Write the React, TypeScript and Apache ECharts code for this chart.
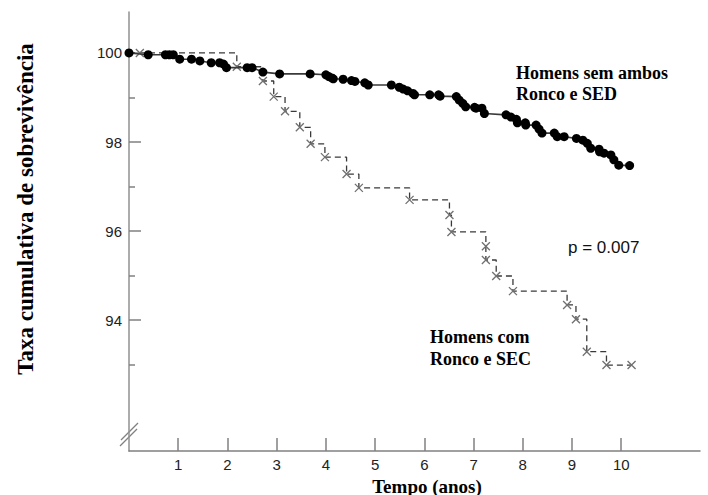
import React, { useEffect, useRef } from "react";
import * as echarts from "echarts";

const xTicks = [1, 2, 3, 4, 5, 6, 7, 8, 9, 10];
const yMajorTicks = [94, 96, 98, 100];
const yMinorTicks = [93, 95, 97, 99];

// Homens sem ambos Ronco e SED (solid, dots)
const tSolid = [0, 0.39, 0.74, 0.82, 0.9, 1.03, 1.27, 1.44, 1.67, 1.84, 1.92, 1.98, 2.4, 2.5, 2.72, 3.06, 3.68, 4.0, 4.06, 4.12, 4.15, 4.35, 4.52, 4.59, 4.79, 4.86, 5.33, 5.49, 5.57, 5.66, 5.77, 5.8, 6.11, 6.29, 6.32, 6.65, 6.71, 6.78, 6.84, 7.02, 7.05, 7.17, 7.22, 7.66, 7.76, 7.87, 7.89, 8.05, 8.06, 8.27, 8.33, 8.39, 8.64, 8.7, 8.84, 9.09, 9.22, 9.31, 9.38, 9.55, 9.56, 9.65, 9.79, 9.85, 9.95, 10.17];
const vSolid = [100, 99.96, 99.96, 99.96, 99.96, 99.86, 99.86, 99.82, 99.78, 99.78, 99.75, 99.67, 99.67, 99.67, 99.57, 99.53, 99.53, 99.51, 99.47, 99.44, 99.42, 99.41, 99.38, 99.36, 99.33, 99.28, 99.28, 99.23, 99.19, 99.15, 99.09, 99.06, 99.06, 99.06, 99.03, 99.02, 98.94, 98.87, 98.79, 98.78, 98.76, 98.76, 98.64, 98.61, 98.56, 98.51, 98.43, 98.43, 98.38, 98.38, 98.29, 98.2, 98.2, 98.12, 98.12, 98.08, 98.04, 97.97, 97.86, 97.84, 97.78, 97.75, 97.71, 97.6, 97.48, 97.47];

// Homens com Ronco e SEC (dashed step, x marks)
const tDashed = [0, 0.22, 2.19, 2.72, 2.94, 3.17, 3.47, 3.69, 3.98, 4.42, 4.67, 5.7, 6.51, 6.55, 7.25, 7.25, 7.46, 7.8, 8.9, 9.08, 9.3, 9.7, 10.21];
const vDashed = [100, 100, 99.69, 99.37, 99.02, 98.69, 98.33, 97.96, 97.66, 97.28, 96.97, 96.7, 96.36, 95.98, 95.66, 95.35, 94.99, 94.65, 94.34, 94.02, 93.29, 92.99, 92.99];

const labelSolid = "Homens sem ambos\nRonco e SED";
const labelDashed = "Homens com\nRonco e SEC";
const pValueText = "p = 0.007";
const xName = "Tempo (anos)";
const yName = "Taxa cumulativa de sobrevivência";

const SERIF = '"Liberation Serif", "Times New Roman", serif';
const SANS = '"Liberation Sans", Arial, sans-serif';

export default function App() {
  const ref = useRef<HTMLDivElement>(null);
  useEffect(() => {
    const chart = echarts.init(ref.current!, null, { renderer: "svg" });
    const yMin = 91.06;
    const yMax = 100.92;
    chart.setOption({
      animation: false,
      backgroundColor: "#ffffff",
      grid: { left: 129, right: 8, top: 12, bottom: 44 },
      xAxis: {
        type: "value",
        min: 0,
        max: 11.6,
        splitLine: { show: false },
        axisLine: { show: true, lineStyle: { color: "#808080", width: 1.5 } },
        axisTick: {
          show: true,
          inside: true,
          length: 13,
          customValues: xTicks,
          lineStyle: { color: "#808080", width: 1.5 },
        },
        axisLabel: {
          customValues: xTicks,
          color: "#222",
          fontFamily: SANS,
          fontSize: 15,
          margin: 6,
        },
      },
      yAxis: [
        {
          type: "value",
          min: yMin,
          max: yMax,
          splitLine: { show: false },
          axisLine: { show: true, lineStyle: { color: "#909090", width: 1.5 } },
          axisTick: {
            show: true,
            inside: true,
            length: 12,
            customValues: yMajorTicks,
            lineStyle: { color: "#808080", width: 1.5 },
          },
          axisLabel: {
            customValues: yMajorTicks,
            color: "#222",
            fontFamily: SANS,
            fontSize: 15,
            margin: 7,
          },
        },
        {
          type: "value",
          min: yMin,
          max: yMax,
          position: "left",
          splitLine: { show: false },
          axisLine: { show: false },
          axisLabel: { show: false },
          axisTick: {
            show: true,
            inside: true,
            length: 6,
            customValues: yMinorTicks,
            lineStyle: { color: "#808080", width: 1.5 },
          },
        },
      ],
      series: [
        {
          type: "line",
          name: "SEC",
          step: "end",
          z: 2,
          data: tDashed.map((t, i) =>
            i === 0 ? { value: [t, vDashed[i]], symbol: "none" } : [t, vDashed[i]]
          ),
          lineStyle: { color: "#3a3a3a", width: 1.3, type: [6, 4] },
          symbol: "path://M0,0L10,10M10,0L0,10",
          symbolSize: 8,
          itemStyle: { color: "#707070", borderColor: "#707070", borderWidth: 1.3 },
        },
        {
          type: "line",
          name: "SED",
          z: 3,
          data: tSolid.map((t, i) => [t, vSolid[i]]),
          lineStyle: { color: "#3a3a3a", width: 1.6 },
          symbol: "circle",
          symbolSize: 9,
          itemStyle: { color: "#000000" },
        },
      ],
      graphic: [
        {
          type: "line",
          shape: { x1: 120, y1: 446, x2: 137, y2: 429 },
          style: { stroke: "#808080", lineWidth: 1.3 },
        },
        {
          type: "line",
          shape: { x1: 121, y1: 440, x2: 138, y2: 423 },
          style: { stroke: "#808080", lineWidth: 1.3 },
        },
        {
          type: "text",
          x: 25,
          y: 209,
          rotation: Math.PI / 2,
          style: {
            text: yName,
            font: `bold 23px ${SERIF}`,
            fill: "#000",
            textAlign: "center",
            textVerticalAlign: "middle",
          },
        },
        {
          type: "text",
          x: 427,
          y: 486,
          style: {
            text: xName,
            font: `bold 19px ${SERIF}`,
            fill: "#000",
            textAlign: "center",
            textVerticalAlign: "middle",
          },
        },
        {
          type: "text",
          x: 516,
          y: 62.5,
          style: {
            text: labelSolid,
            font: `bold 18px ${SERIF}`,
            lineHeight: 21,
            fill: "#000",
            textAlign: "left",
            textVerticalAlign: "top",
          },
        },
        {
          type: "text",
          x: 430,
          y: 326,
          style: {
            text: labelDashed,
            font: `bold 18px ${SERIF}`,
            lineHeight: 22,
            fill: "#000",
            textAlign: "left",
            textVerticalAlign: "top",
          },
        },
        {
          type: "text",
          x: 568,
          y: 247,
          style: {
            text: pValueText,
            font: `17px ${SANS}`,
            fill: "#111",
            textAlign: "left",
            textVerticalAlign: "middle",
          },
        },
      ],
    });
    return () => chart.dispose();
  }, []);
  return (
    <div
      ref={ref}
      style={{ position: "fixed", left: 0, top: 0, width: 708, height: 495 }}
    />
  );
}
